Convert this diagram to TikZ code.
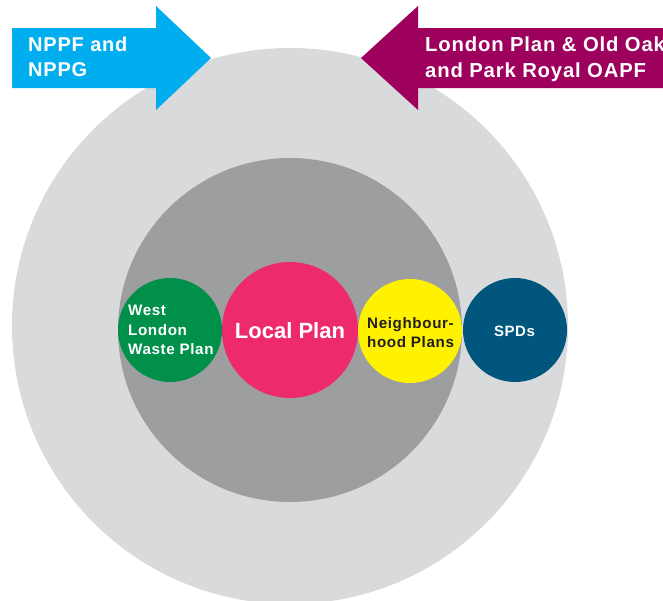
\documentclass[tikz,border=0pt]{standalone}
\usepackage{fontspec}
\setmainfont{Liberation Sans}
\newfontfamily\widesans[LetterSpace=4]{Liberation Sans}
\definecolor{outergray}{HTML}{D9DADB}
\definecolor{innergray}{HTML}{9C9E9F}
\definecolor{arrowblue}{HTML}{00AEEF}
\definecolor{arrowmag}{HTML}{9E005D}
\definecolor{wlgreen}{HTML}{00904A}
\definecolor{lppink}{HTML}{EE2A6F}
\definecolor{nhyellow}{HTML}{FFF200}
\definecolor{spdblue}{HTML}{00567D}
\definecolor{darktext}{HTML}{231F20}
\tikzset{
  disc/.style={circle,draw=none,inner sep=0pt},
  labeltxt/.style={inner sep=0pt,align=left,anchor=north west},
}
\begin{document}
\begin{tikzpicture}[x=1pt,y=-1pt]
\useasboundingbox (0,0) rectangle (663,600);
\clip (0,0) rectangle (663,600);
% circles
\node[disc,fill=outergray,minimum size=556pt] (outer) at (290,326) {};
\node[disc,fill=innergray,minimum size=344pt] (inner) at (290,330) {};
\node[disc,fill=wlgreen,minimum size=104pt] (wl) at (170,330) {};
\node[disc,fill=lppink,minimum size=136pt] (lp) at (290,330) {};
\node[disc,fill=nhyellow,minimum size=104pt] (nh) at (410,331) {};
\node[disc,fill=spdblue,minimum size=104pt] (spd) at (515,330) {};
% arrows
\fill[arrowblue] (12,28) -- (156,28) -- (156,6) -- (211,58) -- (156,110) -- (156,88) -- (12,88) -- cycle;
\fill[arrowmag] (670,28) -- (418,28) -- (418,6) -- (361,58) -- (418,110) -- (418,88) -- (670,88) -- cycle;
% texts
\node[labeltxt,text=white,font=\widesans\bfseries\fontsize{20}{25.7}\selectfont] (t1) at (28,36.6) {NPPF and\\NPPG};
\node[labeltxt,text=white,font=\widesans\bfseries\fontsize{20.3}{25.7}\selectfont] (t2) at (425,36.4) {London Plan \& Old Oak\\and Park Royal OAPF};
\node[labeltxt,text=white,font=\widesans\bfseries\fontsize{15.2}{19.5}\selectfont] (wlt) at (128,305.2) {West\\London\\Waste Plan};
\node[inner sep=0pt,text=white,font=\bfseries\fontsize{22}{26}\selectfont] (lpt) at (290,331) {Local Plan};
\node[labeltxt,text=darktext,font=\widesans\bfseries\fontsize{15.2}{18.7}\selectfont] (nht) at (367,317.2) {Neighbour-\\hood Plans};
\node[inner sep=0pt,text=white,font=\widesans\bfseries\fontsize{15}{19}\selectfont] (spdt) at (514.5,331) {SPDs};
\end{tikzpicture}
\end{document}
